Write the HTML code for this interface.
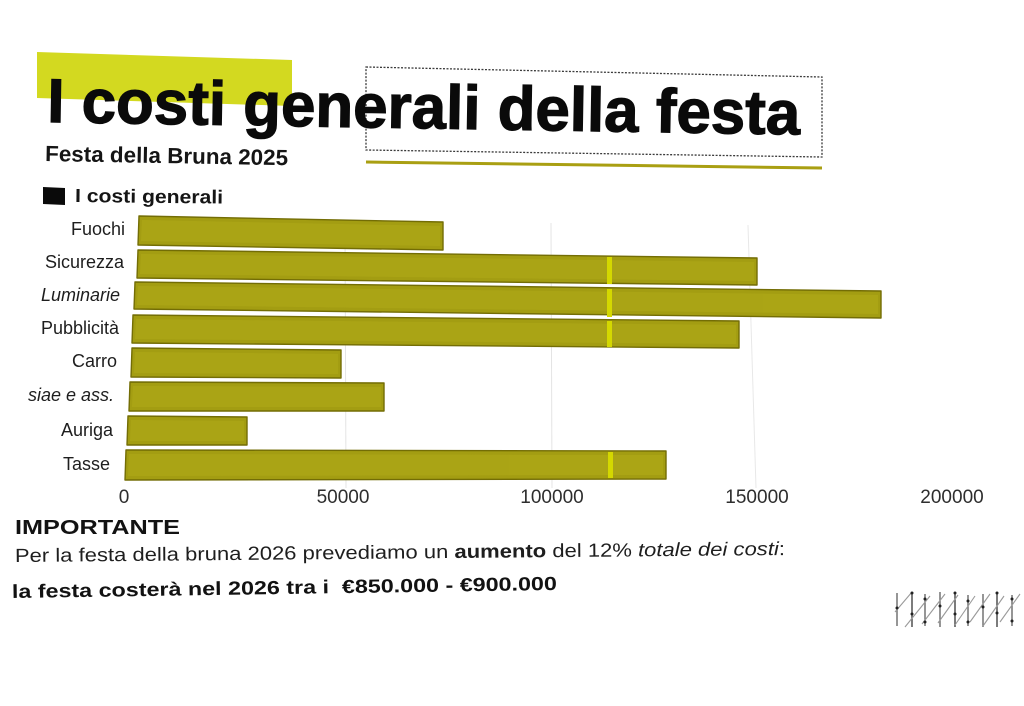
<!DOCTYPE html>
<html>
<head>
<meta charset="utf-8">
<style>
  html,body{margin:0;padding:0;background:#fff;}
  body{width:1024px;height:706px;overflow:hidden;}
  svg{display:block;}
  text{font-family:"Liberation Sans", "DejaVu Sans", sans-serif;}
</style>
</head>
<body>
<svg width="1024" height="706" viewBox="0 0 1024 706" xmlns="http://www.w3.org/2000/svg">
  <rect x="0" y="0" width="1024" height="706" fill="#ffffff"/>

  <!-- highlight behind title -->
  <polygon points="37,52 292,60 292,106 37,98" fill="#d3d920"/>

  <!-- dotted box -->
  <polygon points="366,67 822,77 822,157 366,150" fill="none" stroke="#3a3a3a" stroke-width="1.3" stroke-dasharray="2,1.5"/>
  <!-- underline -->
  <line x1="366" y1="162" x2="822" y2="168" stroke="#a99f12" stroke-width="3"/>

  <!-- title -->
  <text x="47" y="122" font-size="62" font-weight="bold" fill="#0a0a0a" stroke="#0a0a0a" stroke-width="1.2" textLength="753" lengthAdjust="spacingAndGlyphs" transform="rotate(0.95 47 122)">I costi generali della festa</text>

  <!-- subtitle -->
  <text x="45" y="161" font-size="22" font-weight="bold" fill="#151515" textLength="243" lengthAdjust="spacingAndGlyphs" transform="rotate(1.0 45 161)">Festa della Bruna 2025</text>

  <!-- legend -->
  <polygon points="43,187 65,188 65,205 43,204" fill="#0a0a0a"/>
  <text x="75" y="202" font-size="19" font-weight="bold" fill="#151515" textLength="148" lengthAdjust="spacingAndGlyphs" transform="rotate(0.6 75 202)">I costi generali</text>

  <!-- gridlines -->
  <line x1="345" y1="225" x2="346" y2="488" stroke="#e4e4e4" stroke-width="1"/>
  <line x1="551" y1="223" x2="552" y2="488" stroke="#e4e4e4" stroke-width="1"/>
  <line x1="748" y1="225" x2="756" y2="488" stroke="#e8e8e8" stroke-width="1"/>

  <!-- bars -->
  <g fill="#a39d12" stroke="#736d05" stroke-width="1.4" stroke-linejoin="round">
    <polygon points="139,216 443,222 443,250 138,245"/>
    <polygon points="138,250 757,258 757,285 137,278"/>
    <polygon points="135,282 881,291 881,318 134,309"/>
    <polygon points="133,315 739,321 739,348 132,343"/>
    <polygon points="132,348 341,350 341,378 131,377"/>
    <polygon points="130,382 384,383 384,411 129,411"/>
    <polygon points="128,416 247,417 247,445 127,445"/>
    <polygon points="126,450 666,451 666,479 125,480"/>
  </g>
  <!-- brighter inner tone -->
  <g fill="#b0aa18" opacity="0.6">
    <polygon points="142,220 440,226 440,246 141,241"/>
    <polygon points="141,254 754,262 754,281 140,274"/>
    <polygon points="138,286 878,295 878,314 137,305"/>
    <polygon points="136,319 736,325 736,344 135,339"/>
    <polygon points="135,352 338,354 338,374 134,373"/>
    <polygon points="133,386 381,387 381,407 132,407"/>
    <polygon points="131,420 244,421 244,441 130,441"/>
    <polygon points="129,454 663,455 663,475 128,476"/>
  </g>
  <!-- bright stripe -->
  <g fill="#d4d800">
    <rect x="607" y="257" width="5" height="27"/>
    <rect x="607" y="289" width="5" height="28"/>
    <rect x="607" y="321" width="5" height="26"/>
    <rect x="608" y="452" width="5" height="26"/>
  </g>

  <!-- category labels -->
  <g font-size="18" fill="#1e1e1e" text-anchor="end">
    <text x="125" y="235">Fuochi</text>
    <text x="124" y="268">Sicurezza</text>
    <text x="120" y="301" font-style="italic">Luminarie</text>
    <text x="119" y="334">Pubblicità</text>
    <text x="117" y="367">Carro</text>
    <text x="114" y="401" font-style="italic">siae e ass.</text>
    <text x="113" y="436">Auriga</text>
    <text x="110" y="470">Tasse</text>
  </g>

  <!-- tick labels -->
  <g font-size="19" fill="#2e2e2e" text-anchor="middle">
    <text x="124" y="503">0</text>
    <text x="343" y="503">50000</text>
    <text x="552" y="503">100000</text>
    <text x="757" y="503">150000</text>
    <text x="952" y="503">200000</text>
  </g>

  <!-- bottom text -->
  <text x="15" y="534" font-size="20" font-weight="bold" fill="#121212" textLength="165" lengthAdjust="spacingAndGlyphs">IMPORTANTE</text>
  <text x="15" y="562" font-size="19" fill="#1e1e1e" textLength="770" lengthAdjust="spacingAndGlyphs" transform="rotate(-0.52 15 562)">Per la festa della bruna 2026 prevediamo un <tspan font-weight="bold">aumento</tspan> del 12% <tspan font-style="italic">totale dei costi</tspan>:</text>
  <text x="12" y="598" font-size="19" font-weight="bold" fill="#121212" textLength="545" lengthAdjust="spacingAndGlyphs" transform="rotate(-0.85 12 598)" style="white-space:pre" xml:space="preserve">la festa costerà nel 2026 tra i  €850.000 - €900.000</text>

  <!-- hatch marks bottom right -->
  <g stroke="#6a6a6a" stroke-width="1.4">
    <line x1="897" y1="593" x2="897" y2="626"/>
    <line x1="912" y1="592" x2="912" y2="627" stroke="#444"/>
    <line x1="925" y1="594" x2="925" y2="626"/>
    <line x1="940" y1="592" x2="940" y2="627"/>
    <line x1="955" y1="592" x2="955" y2="627" stroke="#444"/>
    <line x1="968" y1="595" x2="968" y2="626"/>
    <line x1="983" y1="594" x2="983" y2="627"/>
    <line x1="997" y1="592" x2="997" y2="627" stroke="#444"/>
    <line x1="1012" y1="595" x2="1012" y2="626"/>
  </g>
  <g stroke="#9a9a9a" stroke-width="1.1">
    <line x1="895" y1="612" x2="912" y2="592"/>
    <line x1="905" y1="627" x2="930" y2="596"/>
    <line x1="922" y1="624" x2="945" y2="594"/>
    <line x1="938" y1="623" x2="958" y2="595"/>
    <line x1="955" y1="625" x2="975" y2="596"/>
    <line x1="970" y1="622" x2="990" y2="594"/>
    <line x1="983" y1="626" x2="1004" y2="596"/>
    <line x1="1000" y1="622" x2="1020" y2="594"/>
  </g>
  <g fill="#222">
    <circle cx="897" cy="608" r="1.5"/>
    <circle cx="912" cy="593" r="1.5"/>
    <circle cx="912" cy="614" r="1.5"/>
    <circle cx="925" cy="599" r="1.5"/>
    <circle cx="925" cy="622" r="1.5"/>
    <circle cx="940" cy="606" r="1.5"/>
    <circle cx="955" cy="593" r="1.5"/>
    <circle cx="955" cy="614" r="1.5"/>
    <circle cx="968" cy="601" r="1.5"/>
    <circle cx="968" cy="622" r="1.5"/>
    <circle cx="983" cy="607" r="1.5"/>
    <circle cx="997" cy="593" r="1.5"/>
    <circle cx="997" cy="613" r="1.5"/>
    <circle cx="1012" cy="599" r="1.5"/>
    <circle cx="1012" cy="621" r="1.5"/>
  </g>
</svg>
</body>
</html>
